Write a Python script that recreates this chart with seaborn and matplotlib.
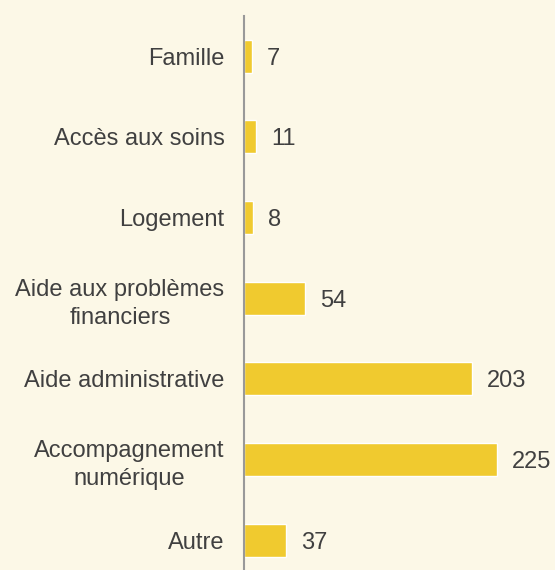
import numpy as np
import pandas as pd
import matplotlib
matplotlib.use('Agg')
import matplotlib.pyplot as plt
import seaborn as sns

# Données
categories = ["Famille", "Accès aux soins", "Logement",
              "Aide aux problèmes\nfinanciers", "Aide administrative",
              "Accompagnement\nnumérique", "Autre"]
valeurs = [7, 11, 8, 54, 203, 225, 37]

df = pd.DataFrame({"categorie": categories, "valeur": valeurs})

fond = "#FCF8E7"
jaune = "#F0CA2F"
texte = "#404040"

sns.set_style("white")
plt.rcParams['font.family'] = ['Liberation Sans', 'DejaVu Sans']

fig = plt.figure(figsize=(5.55, 5.70), dpi=100, facecolor=fond)
ax = fig.add_axes([244 / 555, 0, 1 - 244 / 555, 1 - 16 / 570])
ax.set_facecolor(fond)

sns.barplot(data=df, x="valeur", y="categorie", color=jaune, width=0.41,
            saturation=1, ax=ax)

# Étiquettes de valeurs
for i, v in enumerate(valeurs):
    ax.text(v + 13.5, i, str(v), va="center_baseline", ha="left",
            fontsize=17, color=texte)

ax.set_xlim(0, 277)
ax.set_ylim(6.37, -0.5)
ax.set_xlabel("")
ax.set_ylabel("")
ax.set_xticks([])
ax.tick_params(axis="y", length=0, pad=14, labelsize=17, labelcolor=texte)
for lab in ax.get_yticklabels():
    lab.set_multialignment("center")
    lab.set_linespacing(1.35)

for s in ["top", "right", "bottom"]:
    ax.spines[s].set_visible(False)
ax.spines["left"].set_color("#999999")
ax.spines["left"].set_linewidth(1.5)

fig.savefig("out.png", dpi=100, facecolor=fond)
